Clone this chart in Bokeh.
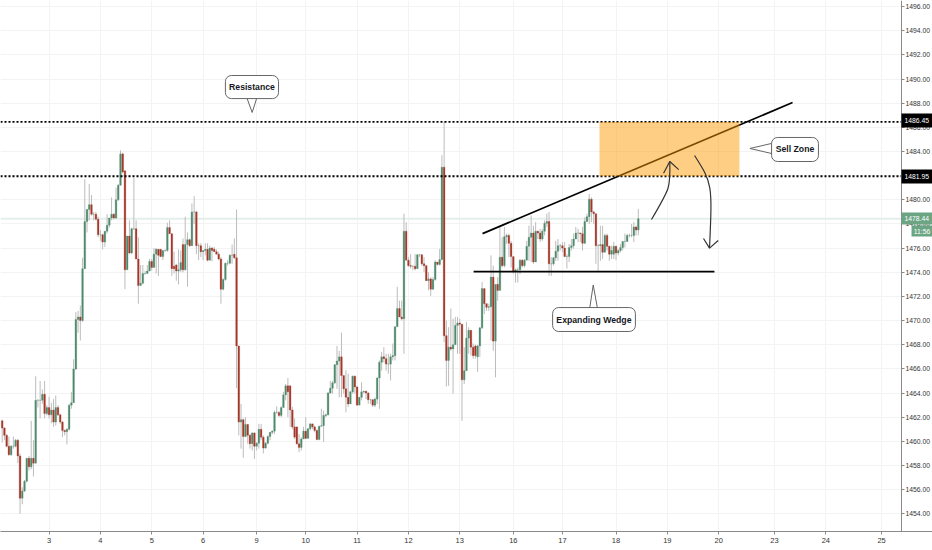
from bokeh.plotting import figure
from bokeh.models import ColumnDataSource, FixedTicker, BoxAnnotation, Label, Range1d
from bokeh.embed import file_html
from bokeh.resources import INLINE

opens = [
1461.7,1461.1,1460.5,1459.6,1458.9,1459.6,1459.6,1460.1,1458.8,1455.3,
1455.9,1456.7,1458.6,1457.9,1458.6,1458.2,1463.4,1463.4,1463.4,1463.9,
1462.3,1462.8,1462.2,1462.6,1461.6,1462.8,1462.2,1461.6,1460.9,1460.8,
1461.0,1463.0,1463.2,1466.0,1470.1,1470.3,1470.0,1474.3,1478.2,1479.2,
1479.6,1478.8,1478.8,1478.4,1477.1,1477.1,1476.5,1477.4,1477.9,1478.5,
1478.8,1478.5,1480.0,1481.2,1483.8,1482.4,1474.2,1477.0,1475.6,1477.6,
1477.6,1475.1,1472.9,1473.1,1473.9,1473.9,1474.1,1474.9,1474.4,1475.5,
1475.9,1475.9,1475.3,1475.8,1475.8,1477.7,1477.2,1474.5,1474.6,1474.1,
1474.2,1476.3,1474.2,1476.3,1476.7,1476.2,1479.0,1479.0,1476.2,1476.2,
1475.7,1475.8,1475.9,1475.0,1476.0,1475.9,1475.7,1475.5,1475.1,1472.6,
1473.4,1474.75,1474.75,1475.4,1475.5,1475.2,1467.9,
1461.6,1461.8,1460.4,1461.4,1460.5,1459.8,1460.7,1459.6,1459.85,1461.0,
1460.35,1459.45,1459.85,1460.4,1460.75,1460.85,1462.4,1462.4,1462.15,1462.8,
1463.85,1464.6,1464.6,1462.6,1461.2,1461.2,1459.8,1459.5,1460.2,1460.85,
1460.25,1461.05,1461.45,1461.2,1460.9,1460.15,1461.25,1461.3,1462.15,1462.2,
1464.0,1464.4,1464.85,1466.35,1466.65,1467.0,1465.45,1464.35,1463.65,1463.1,
1464.1,1465.4,1464.5,1463.0,1463.65,1464.1,1464.15,1464.0,1463.45,1463.45,
1463.0,1463.5,1465.25,1466.55,1467.0,1466.85,1466.4,1466.4,1467.0,1467.1,
1469.5,1471.0,1470.3,1470.15,1477.4,1475.0,1474.55,1474.5,1474.5,1474.3,
1475.45,1475.45,1474.7,1474.55,1473.3,1473.45,1472.6,1473.4,1474.85,1474.65,
1475.05,1482.7,1468.75,1466.7,1467.8,1467.65,1468.0,1469.6,1469.8,1469.7,
1465.1,1465.85,1468.55,
1469.2,1467.8,1467.9,1467.0,1467.9,1469.4,1472.65,1471.4,1471.1,1471.15,
1473.6,1468.3,1473.0,1472.5,1475.25,1474.55,1476.95,1477.05,1476.4,1475.3,
1474.1,1474.2,1474.2,1475.0,1474.55,1475.0,1476.15,1476.9,1477.25,1474.85,
1477.4,1477.25,1476.75,1477.4,1478.05,1478.2,1474.7,1474.7,1475.2,1475.75,
1476.2,1476.2,1476.0,1475.3,1475.3,1476.05,1476.2,1476.75,1477.25,1477.25,
1477.2,1476.4,1478.2,1478.6,1480.05,1479.0,1478.85,1476.2,1476.2,1476.3,
1475.65,1477.05,1476.15,1475.5,1475.5,1476.15,1475.6,1475.8,1476.05,1476.55,
1476.55,1477.05,1477.05,1477.05,1477.75,1477.5,
]
closes = [
1461.1,1460.5,1459.6,1458.9,1459.6,1459.6,1460.1,1458.8,1455.3,1455.9,
1456.7,1458.6,1457.9,1458.6,1458.2,1463.4,1463.4,1463.4,1463.9,1462.3,
1462.8,1462.2,1462.6,1461.6,1462.8,1462.2,1461.6,1460.9,1460.8,1461.0,
1463.0,1463.2,1466.0,1470.1,1470.3,1470.0,1474.3,1478.2,1479.2,1479.6,
1478.8,1478.8,1478.4,1477.1,1477.1,1476.5,1477.4,1477.9,1478.5,1478.8,
1478.5,1480.0,1481.2,1483.8,1482.3,1474.2,1477.0,1475.6,1477.6,1477.6,
1475.1,1472.9,1473.1,1473.9,1473.9,1474.1,1474.9,1474.4,1475.5,1475.9,
1475.4,1475.3,1475.8,1475.8,1477.7,1477.2,1474.3,1474.3,1474.1,1474.2,
1474.8,1474.2,1476.3,1476.7,1476.2,1479.0,1479.0,1476.2,1476.2,1475.7,
1475.8,1475.9,1475.0,1476.0,1475.8,1475.7,1475.5,1475.1,1472.6,1473.4,
1474.75,1474.75,1475.4,1475.4,1475.2,1467.9,1461.6,
1461.8,1460.4,1461.4,1460.5,1459.8,1460.7,1459.6,1459.85,1461.0,1460.35,
1459.45,1459.85,1460.4,1460.75,1460.85,1462.4,1462.4,1462.15,1462.8,1463.85,
1464.6,1464.1,1462.6,1461.2,1460.35,1459.8,1459.5,1460.2,1460.85,1460.25,
1461.05,1461.45,1461.2,1460.9,1460.15,1461.25,1461.3,1462.15,1462.2,1464.0,
1464.4,1464.85,1466.35,1466.65,1467.0,1465.45,1464.35,1463.65,1463.1,1464.1,
1465.4,1464.5,1463.0,1463.65,1464.1,1464.15,1464.0,1463.45,1463.45,1463.0,
1463.5,1465.25,1466.55,1467.0,1466.85,1466.4,1466.4,1467.0,1467.1,1469.5,
1471.0,1470.3,1470.15,1477.4,1475.0,1474.55,1474.5,1474.5,1474.3,1475.45,
1475.45,1474.7,1474.55,1473.3,1473.45,1472.6,1473.4,1474.85,1474.65,1475.05,
1482.7,1468.75,1466.7,1467.8,1467.65,1468.0,1469.6,1469.8,1469.7,1465.1,
1465.85,1468.55,1469.2,
1467.8,1467.1,1467.1,1467.9,1469.4,1472.65,1471.4,1471.1,1471.15,1473.6,
1468.3,1473.0,1472.5,1475.25,1474.55,1476.95,1477.05,1476.4,1475.3,1474.1,
1474.2,1474.2,1475.0,1474.55,1475.0,1476.15,1476.9,1477.25,1474.85,1477.4,
1477.25,1476.75,1477.4,1478.05,1478.2,1474.7,1474.7,1475.2,1475.75,1476.2,
1476.2,1476.0,1475.3,1475.3,1476.05,1476.2,1476.75,1477.25,1477.25,1477.2,
1476.4,1478.2,1478.6,1480.05,1479.0,1478.85,1476.2,1476.2,1476.3,1475.65,
1477.05,1476.15,1475.5,1475.8,1476.15,1475.6,1475.8,1476.05,1476.55,1476.55,
1477.05,1477.05,1477.05,1477.75,1477.5,1478.44,
]
highs = [
1461.8,1461.2,1460.6,1460.4,1459.7,1460.4,1460.2,1460.2,1459.0,1456.2,
1456.8,1458.6,1458.8,1461.7,1460.1,1465.4,1463.5,1465.0,1464.3,1465.0,
1463.0,1463.7,1463.2,1463.5,1463.8,1463.0,1462.3,1461.7,1461.0,1461.1,
1463.1,1464.1,1466.8,1470.7,1470.8,1471.25,1475.2,1481.7,1479.25,1481.3,
1480.4,1479.0,1479.0,1478.6,1477.5,1477.2,1477.4,1478.8,1478.5,1480.2,
1478.9,1481.0,1481.3,1484.1,1483.9,1482.4,1477.0,1478.3,1477.7,1481.8,
1478.3,1476.9,1474.6,1474.6,1474.1,1474.6,1475.1,1475.1,1476.0,1476.0,
1475.9,1475.9,1475.8,1475.9,1478.1,1478.3,1477.2,1475.7,1474.7,1475.9,
1475.8,1476.8,1478.6,1477.3,1476.8,1479.7,1480.3,1479.1,1476.4,1476.4,
1475.8,1476.4,1476.4,1476.2,1476.1,1476.1,1475.9,1475.7,1475.25,1473.5,
1474.8,1475.0,1475.5,1476.3,1476.8,1479.2,1467.9,
1463.1,1461.9,1462.0,1461.45,1460.6,1460.75,1460.75,1459.95,1461.45,1461.45,
1460.5,1459.95,1460.5,1460.75,1460.9,1462.55,1462.9,1462.5,1462.9,1464.1,
1464.75,1465.25,1464.6,1462.85,1461.9,1461.2,1460.6,1460.35,1461.2,1462.0,
1461.1,1461.5,1461.45,1461.3,1461.0,1461.3,1462.7,1462.55,1462.3,1464.1,
1465.0,1465.0,1466.4,1467.9,1467.5,1469.0,1465.45,1465.9,1465.6,1464.2,
1465.45,1465.45,1464.6,1463.65,1464.9,1464.2,1464.2,1464.1,1463.5,1463.5,
1463.65,1465.3,1466.7,1467.4,1467.8,1467.25,1467.25,1467.25,1468.1,1469.5,
1472.8,1471.65,1471.65,1478.85,1478.15,1475.25,1475.5,1474.55,1475.5,1475.5,
1475.5,1475.5,1475.25,1474.55,1474.0,1473.6,1473.6,1475.0,1474.85,1475.95,
1483.7,1486.5,1470.0,1469.45,1471.0,1470.15,1470.3,1470.3,1470.15,1469.7,
1467.8,1469.9,1469.45,
1469.2,1468.1,1468.0,1468.0,1469.45,1473.2,1472.65,1471.4,1471.4,1475.4,
1474.55,1468.3,1473.6,1477.75,1476.9,1477.75,1477.2,1477.2,1476.6,1475.25,
1474.3,1474.4,1475.1,1475.1,1475.1,1476.6,1477.85,1478.7,1477.85,1478.15,
1477.45,1477.6,1477.6,1478.3,1478.85,1479.0,1475.25,1475.25,1476.6,1476.75,
1476.35,1476.5,1476.5,1475.5,1476.35,1476.75,1477.2,1477.75,1477.6,1477.3,
1477.75,1478.55,1478.85,1480.5,1480.2,1479.1,1478.85,1476.35,1477.85,1477.85,
1477.2,1477.2,1476.2,1476.2,1476.5,1476.2,1475.9,1476.35,1476.6,1477.2,
1477.2,1477.2,1478.0,1478.15,1477.85,1479.25,
]
lows = [
1459.9,1460.1,1459.5,1458.8,1458.8,1459.4,1459.5,1458.2,1454.0,1454.8,
1455.8,1456.6,1457.6,1457.7,1457.1,1458.2,1462.8,1461.9,1463.1,1461.9,
1462.15,1461.9,1461.5,1461.2,1461.3,1462.1,1461.45,1460.35,1460.5,1459.75,
1460.9,1462.7,1464.9,1465.9,1469.0,1468.35,1469.9,1474.3,1477.3,1478.3,
1478.7,1478.3,1478.3,1476.9,1476.6,1475.9,1476.1,1477.2,1477.7,1478.3,
1478.4,1478.4,1479.9,1481.2,1482.2,1472.6,1474.6,1475.5,1475.5,1477.5,
1475.1,1471.4,1472.9,1473.0,1473.8,1473.9,1474.1,1474.15,1474.4,1473.9,
1473.7,1475.25,1475.0,1475.7,1475.7,1477.2,1473.7,1473.9,1473.3,1473.0,
1474.0,1474.0,1474.15,1472.8,1476.1,1476.2,1478.0,1475.5,1475.0,1475.25,
1475.0,1475.4,1474.9,1475.0,1474.9,1475.7,1475.5,1475.0,1471.4,1472.5,
1473.3,1474.55,1474.65,1474.7,1475.1,1464.4,1460.5,
1459.4,1458.65,1460.35,1459.8,1459.4,1459.25,1458.55,1459.25,1459.4,1460.1,
1459.0,1459.4,1459.75,1460.1,1460.6,1460.6,1462.3,1462.0,1462.0,1462.85,
1463.4,1462.0,1461.2,1461.0,1460.2,1459.75,1459.1,1459.25,1460.2,1460.2,
1460.2,1460.9,1461.0,1460.75,1460.1,1460.1,1461.25,1459.95,1462.0,1462.15,
1463.95,1463.95,1464.75,1464.35,1463.65,1463.65,1463.95,1462.4,1462.85,1463.25,
1463.95,1463.95,1463.0,1463.1,1463.4,1463.95,1463.5,1463.1,1463.1,1462.85,
1462.85,1463.1,1462.7,1465.85,1466.55,1465.85,1465.6,1465.05,1466.7,1466.7,
1469.45,1470.3,1470.0,1467.25,1475.0,1474.45,1474.3,1474.15,1474.15,1474.3,
1475.25,1474.55,1474.0,1473.3,1472.5,1472.05,1472.55,1473.3,1474.55,1474.55,
1475.0,1468.2,1464.55,1464.6,1467.5,1463.95,1469.45,1467.25,1467.25,1461.7,
1464.75,1465.85,1467.25,
1467.1,1466.85,1466.85,1465.75,1467.0,1469.3,1470.55,1470.8,1470.8,1468.35,
1467.5,1465.3,1471.65,1472.75,1474.4,1474.4,1476.35,1475.25,1474.4,1473.9,
1473.15,1473.15,1473.85,1474.4,1474.4,1475.0,1474.95,1474.85,1474.7,1474.85,
1476.75,1476.5,1476.6,1477.05,1477.75,1473.7,1473.7,1474.55,1474.95,1474.95,
1475.8,1475.65,1475.25,1474.3,1474.85,1475.8,1475.95,1476.75,1476.5,1476.5,
1475.8,1476.35,1478.15,1478.0,1478.15,1478.0,1474.7,1474.1,1474.95,1475.1,
1476.1,1475.8,1474.95,1475.1,1475.1,1475.0,1475.4,1475.65,1475.8,1476.05,
1476.5,1476.9,1476.9,1476.5,1477.05,1477.05,
]

day_ticks = [21, 44, 67, 90, 114, 136, 159, 182, 205, 229, 251, 275, 298, 321, 346, 369, 394]
day_labels = ["3", "4", "5", "6", "9", "10", "11", "12", "13", "16", "17", "18", "19", "20", "23", "24", "25"]
price_ticks = [1454, 1456, 1458, 1460, 1462, 1464, 1466, 1468, 1470, 1472, 1474,
               1476, 1478, 1480, 1482, 1484, 1486, 1488, 1490, 1492, 1494, 1496]
resistance_top = 1486.45
resistance_low = 1481.95
last_price = 1478.44

UP, DOWN = "#4f8a6d", "#a5382a"
FONT = "Liberation Sans"
X_MIN, AXIS_X, X_MAX = -0.76, 402.9, 416.8

n = min(len(opens), len(closes), len(highs), len(lows))
idx = list(range(n))
src = ColumnDataSource(dict(
    x=idx, o=opens[:n], c=closes[:n], h=highs[:n], l=lows[:n],
    top=[max(a, b) for a, b in zip(opens[:n], closes[:n])],
    bottom=[min(a, b) for a, b in zip(opens[:n], closes[:n])],
    color=[UP if b >= a else DOWN for a, b in zip(opens[:n], closes[:n])],
))

p = figure(width=932, height=550, output_backend="svg", toolbar_location=None,
           x_range=Range1d(X_MIN, X_MAX), y_range=Range1d(1452.54, 1496.5),
           y_axis_location="right", min_border_left=0, min_border_top=0,
           min_border_right=0, min_border_bottom=19,
           outline_line_color=None, background_fill_color="white")
p.yaxis[0].fixed_location = AXIS_X

for ax, ticks in ((p.xaxis[0], day_ticks), (p.yaxis[0], price_ticks)):
    ax.ticker = FixedTicker(ticks=ticks)
    ax.axis_line_color = "#8a8a8a"
    ax.major_tick_line_color = "#8a8a8a"
    ax.major_tick_in = 0
    ax.major_tick_out = 3
    ax.minor_tick_in = 0
    ax.minor_tick_out = 0
    ax.major_label_standoff = 1
    ax.major_label_text_font = FONT
    ax.major_label_text_font_size = "6.8px"
    ax.major_label_text_color = "#333333"
p.xaxis[0].major_label_overrides = {t: s for t, s in zip(day_ticks, day_labels)}
p.xaxis[0].major_label_text_font_size = "7.5px"
p.xaxis[0].major_label_standoff = 3
p.yaxis[0].major_label_overrides = {t: f"{t}.00" for t in price_ticks}

p.xgrid.ticker = FixedTicker(ticks=day_ticks)
p.ygrid.ticker = FixedTicker(ticks=price_ticks)
p.grid.grid_line_color = "#f3f3f3"

# strip behind the price scale
p.quad(left=[AXIS_X], right=[X_MAX], top=[1496.5], bottom=[1452.54], fill_color="white", line_color=None)

p.line([X_MIN, AXIS_X], [last_price, last_price], line_color="#e4eeea", line_width=2)

p.segment("x", "h", "x", "l", source=src, color="#bcbcbc", line_width=1)
p.vbar("x", 0.75, "top", "bottom", source=src, fill_color="color", line_color="color", line_width=0.3)

for level in (resistance_top, resistance_low):
    p.line([X_MIN, AXIS_X], [level, level], line_color="black", line_width=1.8, line_dash=[2, 2])

# wedge lines
p.line([215.2, 354.1], [1477.2, 1488.05], line_color="black", line_width=1.7)
p.line([211.2, 319.1], [1474.06, 1474.06], line_color="black", line_width=1.7)

# sell zone over the line
p.quad(left=[267.6], right=[330.3], top=[resistance_top], bottom=[resistance_low],
       fill_color="#ff9800", fill_alpha=0.48, line_color=None)

# curved arrows
p.bezier(x0=[290.9], y0=[1478.37], x1=[299.1], y1=[1483.17], cx0=[299.4], cy0=[1481.02],
         cx1=[299.4], cy1=[1481.02], line_color="#333333", line_width=1.2)
p.line([296.3, 299.1, 303.1], [1482.2, 1483.17, 1482.5], line_color="#333333", line_width=1.2)
p.bezier(x0=[310.2], y0=[1483.67], x1=[316.9], y1=[1476.0], cx0=[318.2], cy0=[1481.35],
         cx1=[318.2], cy1=[1481.35], line_color="#333333", line_width=1.2)
p.line([314.2, 316.9, 320.8], [1476.8, 1476.0, 1476.63], line_color="#333333", line_width=1.2)

# callouts
callouts = [
    ("Resistance", 100.0, 123.8, 1490.29, 1488.38, 111.9, 1489.3,
     [109.7, 112.0, 114.0], [1488.4, 1487.23, 1488.4]),
    ("Expanding Wedge", 246.6, 283.7, 1471.08, 1469.1, 265.1, 1470.05,
     [263.2, 264.8, 266.7], [1471.0, 1472.95, 1471.0]),
    ("Sell Zone", 344.7, 365.7, 1485.16, 1483.17, 355.2, 1484.2,
     [345.5, 335.0, 345.5], [1484.7, 1484.25, 1483.8]),
]
for text, left, right, top, bottom, tx, ty, px, py in callouts:
    p.patch(px, py, fill_color="white", line_color="#666666", line_width=1)
    p.add_layout(BoxAnnotation(left=left, right=right, top=top, bottom=bottom, fill_color="white",
                               fill_alpha=1, line_color="#666666", line_alpha=1, line_width=1, border_radius=6))
    p.add_layout(Label(x=tx, y=ty, text=text, text_align="center", text_baseline="middle",
                       text_font=FONT, text_font_style="bold", text_font_size="8.7px",
                       text_color="#131722"))

# price tags on the axis
tags = [
    ("1486.45", AXIS_X, 1487.14, 1485.98, "black", "white"),
    ("1481.95", AXIS_X, 1482.51, 1481.35, "black", "white"),
    ("1478.44", AXIS_X, 1478.95, 1477.95, "#6ba583", "white"),
    ("11:56", 407.4, 1477.87, 1476.96, "#6ba583", "white"),
]
for text, left, top, bottom, bg, fg in tags:
    p.add_layout(BoxAnnotation(left=left, right=X_MAX, top=top, bottom=bottom, fill_color=bg, fill_alpha=1,
                               line_color=None))
    p.add_layout(Label(x=404.2 if left < 405 else 408.4, y=(top + bottom) / 2, text=text, text_align="left",
                       text_baseline="middle", text_font=FONT, text_font_size="6.8px", text_color=fg))

open("out.html", "w").write(file_html(p, INLINE))
